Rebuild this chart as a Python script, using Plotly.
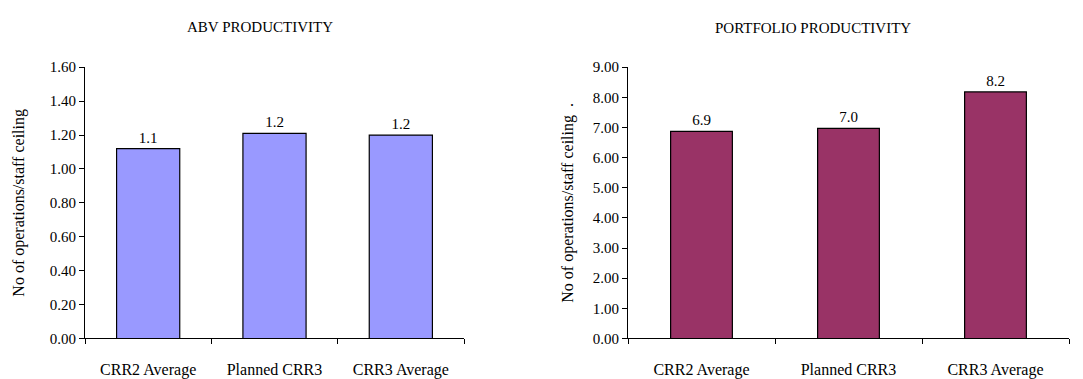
import plotly.graph_objects as go

categories = ["CRR2 Average", "Planned CRR3", "CRR3 Average"]
abv_values = [1.12, 1.21, 1.20]
portfolio_values = [6.87, 6.97, 8.18]
titles = ["ABV PRODUCTIVITY", "PORTFOLIO PRODUCTIVITY"]
y_titles = ["No of operations/staff ceiling", "No of operations/staff ceiling  ."]

FONT = "Liberation Serif, Times New Roman, serif"

fig = go.Figure()
fig.add_trace(go.Bar(x=categories, y=abv_values, xaxis="x", yaxis="y",
                     marker=dict(color="#9999FF", line=dict(color="black", width=1.2)),
                     width=0.5, texttemplate="%{y:.1f}", textposition="outside",
                     textfont=dict(family=FONT, size=15, color="black"), cliponaxis=False))
fig.add_trace(go.Bar(x=categories, y=portfolio_values, xaxis="x2", yaxis="y2",
                     marker=dict(color="#993366", line=dict(color="black", width=1.2)),
                     width=0.42, texttemplate="%{y:.1f}", textposition="outside",
                     textfont=dict(family=FONT, size=15, color="black"), cliponaxis=False))

W, H = 1083, 379
def px(x): return x / W
def py(y): return 1 - y / H

axis_common = dict(showline=True, linecolor="black", linewidth=1, ticks="outside",
                   ticklen=5, tickcolor="black", showgrid=False, zeroline=False)

xfont = dict(family=FONT, size=16, color="black")
yfont = dict(family=FONT, size=15, color="black")

fig.update_layout(
    width=W, height=H, margin=dict(l=0, r=0, t=0, b=0),
    paper_bgcolor="white", plot_bgcolor="white", showlegend=False,
    font=dict(family=FONT, size=15, color="black"),
    xaxis=dict(domain=[px(85), px(464)], anchor="y", type="category",
               tickson="boundaries", tickfont=xfont, ticklabelstandoff=16, **axis_common),
    yaxis=dict(domain=[py(346), py(62)], anchor="x", range=[0, 1.6], dtick=0.2,
               tickformat=".2f", tickfont=yfont,
               title=dict(text=y_titles[0], font=dict(family=FONT, size=16), standoff=21),
               **axis_common),
    xaxis2=dict(domain=[px(628), px(1069)], anchor="y2", type="category",
                tickson="boundaries", tickfont=xfont, ticklabelstandoff=16, **axis_common),
    yaxis2=dict(domain=[py(346), py(62)], anchor="x2", range=[0, 9], dtick=1,
                tickformat=".2f", tickfont=yfont,
                title=dict(text=y_titles[1], font=dict(family=FONT, size=16), standoff=15),
                **axis_common),
    annotations=[
        dict(text=titles[0], x=px(260), y=py(20), xref="paper", yref="paper",
             xanchor="center", yanchor="middle",
             showarrow=False, font=dict(family=FONT, size=15)),
        dict(text=titles[1], x=px(813), y=py(21), xref="paper", yref="paper",
             xanchor="center", yanchor="middle",
             showarrow=False, font=dict(family=FONT, size=15)),
    ],
)

fig.write_html("out.html")
